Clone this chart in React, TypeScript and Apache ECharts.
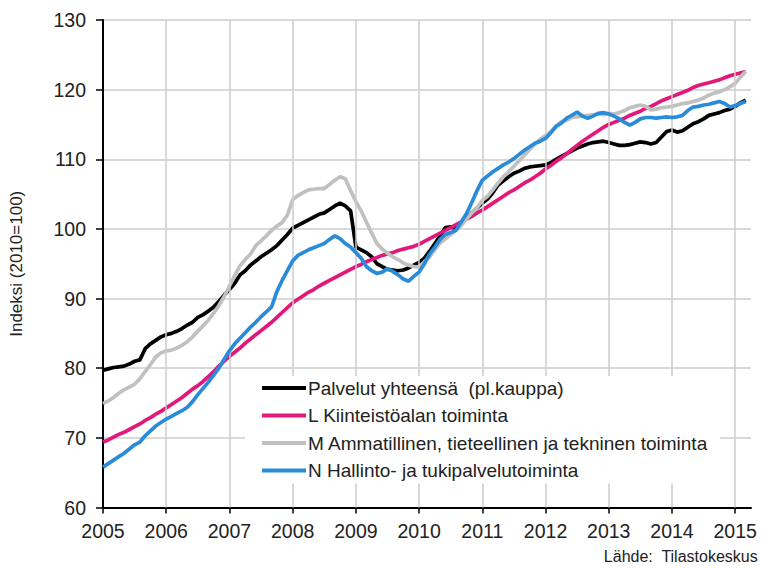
import React, { useEffect, useRef } from "react";
import * as echarts from "echarts";

// Monthly index values, Jan 2005 .. Mar 2015 (2010=100)
const palvelut: number[] = [
  79.7, 79.9, 80.1, 80.2, 80.3, 80.6, 81.0, 81.2, 82.8, 83.5, 84.0, 84.5,
  84.8, 85.0, 85.3, 85.7, 86.2, 86.6, 87.3, 87.7, 88.2, 88.8, 89.6, 90.5,
  91.3, 92.2, 93.4, 94.0, 94.8, 95.4, 96.0, 96.5, 97.0, 97.6, 98.4, 99.2,
  100.1, 100.5, 100.9, 101.3, 101.7, 102.1, 102.3, 102.8, 103.3, 103.7, 103.3, 102.6,
  97.4, 97.0, 96.6, 96.0, 95.0, 94.6, 94.2, 94.1, 94.0, 94.1, 94.4, 94.8,
  95.2, 95.8, 96.8, 97.9, 99.0, 100.2, 100.3, 100.0, 100.8, 101.5, 102.3, 103.0,
  103.7, 104.3, 105.2, 106.3, 106.9, 107.5, 108.0, 108.3, 108.7, 108.9, 109.0, 109.1,
  109.2, 109.5, 110.0, 110.4, 110.8, 111.2, 111.6, 111.9, 112.2, 112.4, 112.5, 112.6,
  112.4, 112.2, 112.0, 112.0, 112.1, 112.3, 112.5, 112.4, 112.2, 112.4, 113.2, 114.0,
  114.2, 113.9, 114.1, 114.6, 115.1, 115.4, 115.8, 116.3, 116.5, 116.7, 117.0, 117.2,
  117.6, 118.1, 118.5,
];
const kiinteisto: number[] = [
  69.4, 69.7, 70.1, 70.5, 70.8, 71.2, 71.6, 72.0, 72.5, 72.9, 73.4, 73.8,
  74.3, 74.8, 75.3, 75.8, 76.4, 77.0, 77.5, 78.1, 78.8, 79.5, 80.3, 81.0,
  81.7, 82.3, 82.9, 83.6, 84.2, 84.8, 85.4, 86.0, 86.6, 87.3, 88.0, 88.7,
  89.4, 89.9, 90.4, 90.9, 91.3, 91.8, 92.2, 92.6, 93.0, 93.4, 93.8, 94.2,
  94.6, 94.9, 95.3, 95.6, 95.9, 96.2, 96.4, 96.6, 96.9, 97.1, 97.3, 97.5,
  97.8, 98.2, 98.6, 99.0, 99.4, 99.8, 100.2, 100.6, 101.0, 101.4, 101.8, 102.3,
  102.7, 103.2, 103.7, 104.2, 104.7, 105.2, 105.6, 106.1, 106.6, 107.0, 107.5, 108.0,
  108.6, 109.1, 109.7, 110.2, 110.8, 111.4, 112.0, 112.6, 113.1, 113.6, 114.1, 114.6,
  115.0, 115.3, 115.6, 115.9, 116.3, 116.6, 116.9, 117.3, 117.6, 118.0, 118.4, 118.7,
  119.0, 119.3, 119.6, 119.9, 120.3, 120.6, 120.8, 121.0, 121.2, 121.4, 121.7, 122.0,
  122.2, 122.4, 122.6,
];
const ammatillinen: number[] = [
  74.9, 75.3, 75.8, 76.4, 76.9, 77.3, 77.7, 78.5, 79.5, 80.5, 81.6, 82.2,
  82.5, 82.6, 82.9, 83.3, 83.8, 84.5, 85.3, 86.1, 86.9, 87.9, 89.0, 90.3,
  91.8, 93.3, 94.7, 95.6, 96.4, 97.6, 98.3, 99.0, 99.8, 100.4, 100.9, 102.0,
  104.2, 104.8, 105.2, 105.6, 105.7, 105.8, 105.8, 106.4, 107.0, 107.5, 107.2, 105.5,
  103.9, 102.6, 101.0, 99.4, 97.9, 97.1, 96.5, 96.0, 95.6, 95.1, 94.8, 94.6,
  94.5, 95.3, 96.0, 97.0, 98.0, 98.6, 99.2, 99.8, 100.5, 101.4, 102.3, 103.0,
  104.1, 104.7, 105.6, 106.6, 107.5, 108.2, 109.0, 109.8, 110.6, 111.4, 112.2, 112.9,
  113.4, 114.0, 114.8, 115.4, 115.6, 116.0, 116.1, 116.2, 116.3, 116.4, 116.5, 116.4,
  116.6, 116.5, 116.7, 117.0, 117.4, 117.6, 117.8, 117.6, 117.1, 117.2, 117.4, 117.5,
  117.6, 117.8, 118.0, 118.1, 118.3, 118.5, 118.8, 119.2, 119.5, 119.7, 120.0, 120.4,
  120.9, 121.8, 122.6,
];
const hallinto: number[] = [
  65.8, 66.3, 66.8, 67.3, 67.8, 68.4, 69.0, 69.4, 70.3, 71.0, 71.7, 72.2,
  72.7, 73.1, 73.5, 73.9, 74.4, 75.2, 76.2, 77.1, 78.0, 79.0, 80.0, 81.3,
  82.5, 83.5, 84.3, 85.1, 85.9, 86.6, 87.4, 88.1, 88.8, 91.0, 92.6, 94.0,
  95.4, 96.2, 96.6, 97.0, 97.3, 97.6, 97.9, 98.5, 99.0, 98.6, 97.9, 97.4,
  96.6, 95.8, 94.6, 94.0, 93.6, 93.8, 94.3, 93.9, 93.4, 92.8, 92.5, 93.2,
  93.8, 95.0, 96.4, 97.4, 98.5, 99.2, 99.5, 99.8, 101.0, 102.2, 103.8, 105.5,
  107.0, 107.6, 108.2, 108.7, 109.2, 109.6, 110.1, 110.7, 111.3, 111.8, 112.3, 112.6,
  113.0, 113.8, 114.7, 115.2, 115.9, 116.3, 116.8, 116.2, 115.9, 116.2, 116.6, 116.7,
  116.5, 116.2, 115.8, 115.3, 114.9, 115.3, 115.8, 116.0, 116.0, 115.9, 116.0, 116.1,
  116.0, 116.1, 116.3, 117.0, 117.5, 117.6, 117.8, 117.9, 118.1, 118.3, 118.0, 117.5,
  117.7, 118.0, 118.3,
];

const seriesNames = [
  "Palvelut yhteensä  (pl.kauppa)",
  "L Kiinteistöalan toiminta",
  "M Ammatillinen, tieteellinen ja tekninen toiminta",
  "N Hallinto- ja tukipalvelutoiminta",
];
const seriesColors = ["#000000", "#e2187a", "#c0c0c0", "#2a8cd8"];
const years = [2005, 2006, 2007, 2008, 2009, 2010, 2011, 2012, 2013, 2014, 2015];
const startYear = 2005;
const sourceText = "Lähde:  Tilastokeskus";
const yAxisName = "Indeksi (2010=100)";

const toPairs = (vals: number[]) => vals.map((v, i) => [startYear + i / 12, v]);

export default function App() {
  const ref = useRef<HTMLDivElement>(null);
  useEffect(() => {
    if (!ref.current) return;
    const chart = echarts.init(ref.current, undefined, { renderer: "svg" });
    const allSeries = [palvelut, kiinteisto, ammatillinen, hallinto];
    const font = "Arial, 'Liberation Sans', sans-serif";
    chart.setOption({
      animation: false,
      grid: { left: 97, right: 12, top: 20, bottom: 60.5, containLabel: false },
      legend: {
        data: seriesNames,
        orient: "vertical",
        left: 245,
        top: 376,
        width: 478,
        backgroundColor: "#ffffff",
        padding: [2, 12, 3, 17],
        itemGap: 7.5,
        itemWidth: 44,
        itemHeight: 4,
        icon: "rect",
        selectedMode: false,
        textStyle: { fontFamily: font, fontSize: 19, color: "#222", lineHeight: 20, padding: [0, 0, 0, -3] },
        z: 10,
      },
      xAxis: {
        type: "value",
        min: 2005,
        max: 2015.25,
        interval: 1,
        axisLine: { show: true, lineStyle: { color: "#000", width: 2 } },
        axisTick: { show: true, length: 6, lineStyle: { color: "#000", width: 1.5 }, customValues: years },
        axisLabel: {
          customValues: years,
          margin: 13,
          fontFamily: font,
          fontSize: 19.5,
          color: "#222",
          formatter: (v: number) => String(Math.round(v)),
        },
        splitLine: { show: false },
      },
      yAxis: {
        type: "value",
        min: 60,
        max: 130,
        interval: 10,
        name: yAxisName,
        nameLocation: "middle",
        nameGap: 78,
        nameTextStyle: { fontFamily: font, fontSize: 17, color: "#222" },
        axisLine: { show: true, lineStyle: { color: "#000", width: 2 } },
        axisTick: { show: true, length: 7, lineStyle: { color: "#000", width: 1.5 } },
        axisLabel: { margin: 17, fontFamily: font, fontSize: 19.5, color: "#222" },
        splitLine: { show: true, lineStyle: { color: "#cccccc", width: 1.5 } },
      },
      series: [
        {
          name: "__grid",
          type: "line",
          data: [],
          z: 1,
          silent: true,
          markLine: {
            silent: true,
            symbol: ["none", "none"],
            label: { show: false },
            lineStyle: { color: "#cccccc", width: 1.5, type: "solid" },
            data: years.slice(1).map((y) => ({ xAxis: y })),
          },
        },
        ...allSeries.map((vals, i) => ({
          name: seriesNames[i],
          type: "line",
          data: toPairs(vals),
          showSymbol: false,
          symbol: "none",
          lineStyle: { color: seriesColors[i], width: 3.7 },
          itemStyle: { color: seriesColors[i] },
          z: 2 + i,
        })),
      ],
      graphic: [
        {
          type: "text",
          right: 5,
          top: 548,
          style: { text: sourceText, fontFamily: font, fontSize: 16, fill: "#222" },
        },
      ],
    });
    return () => chart.dispose();
  }, []);
  return <div ref={ref} style={{ position: "absolute", left: 0, top: 0, width: 763, height: 568 }} />;
}
